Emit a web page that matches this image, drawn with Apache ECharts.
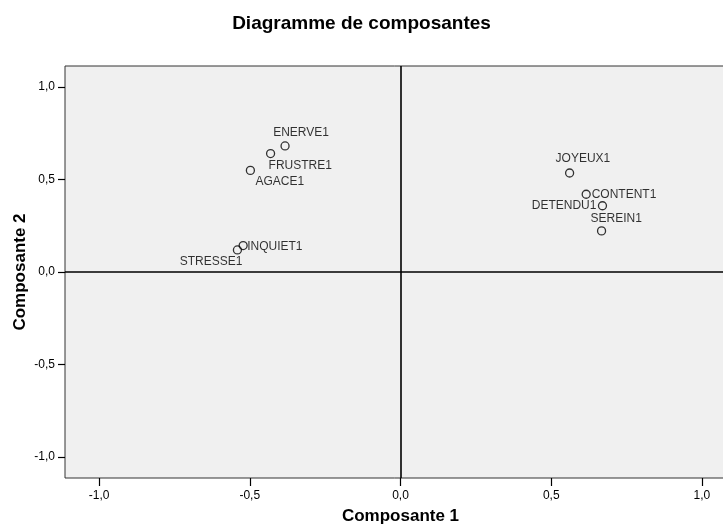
<!DOCTYPE html>
<html>
<head>
<meta charset="utf-8">
<script src="https://cdn.jsdelivr.net/npm/echarts@6/dist/echarts.min.js"></script>
<style>
html,body{margin:0;padding:0;background:#fff;}
#chart{width:723px;height:526px;}
</style>
</head>
<body>
<div id="chart"></div>
<script>
// Data
var names = ['ENERVE1','FRUSTRE1','AGACE1','INQUIET1','STRESSE1','JOYEUX1','CONTENT1','DETENDU1','SEREIN1'];
var comp1 = [-0.383, -0.431, -0.498, -0.522, -0.541, 0.561, 0.616, 0.670, 0.667];
var comp2 = [0.681, 0.640, 0.549, 0.143, 0.119, 0.535, 0.420, 0.358, 0.222];
var tickValues = [-1.0, -0.5, 0.0, 0.5, 1.0];

// Label placement (style only)
var labelPlacement = {
  'ENERVE1':  {align:'center', offset:[16,-13]},
  'FRUSTRE1': {align:'left',   offset:[-2,12]},
  'AGACE1':   {align:'left',   offset:[5,11.5]},
  'INQUIET1': {align:'left',   offset:[4,1]},
  'STRESSE1': {align:'right',  offset:[5,12]},
  'JOYEUX1':  {align:'left',   offset:[-14,-14]},
  'CONTENT1': {align:'left',   offset:[5.5,0]},
  'DETENDU1': {align:'right',  offset:[-6,0]},
  'SEREIN1':  {align:'left',   offset:[-11,-12]}
};

var FONT = '"Liberation Sans", Arial, sans-serif';
function fmt(v){ return v.toFixed(1).replace('.', ','); }

var seriesData = names.map(function(n, i){
  var lp = labelPlacement[n];
  return {
    name: n,
    value: [comp1[i], comp2[i]],
    label: {show:true, position:'inside', align: lp.align, verticalAlign:'middle', offset: lp.offset}
  };
});

var chart = echarts.init(document.getElementById('chart'), null, {renderer:'canvas'});
chart.setOption({
  animation: false,
  backgroundColor: '#ffffff',
  title: {
    text: 'Diagramme de composantes',
    left: 'center',
    top: 9,
    textStyle: {fontFamily: FONT, fontSize: 19, fontWeight: 'bold', color: '#000'}
  },
  grid: {
    left: 65, top: 66, width: 671, bottom: 48,
    containLabel: false,
    outerBoundsMode: 'none',
    show: true, backgroundColor: '#f0f0f0', borderColor: '#333', borderWidth: 1
  },
  xAxis: {
    type: 'value', min: -1.113, max: 1.113,
    name: 'Composante 1', nameLocation: 'middle', nameGap: 30, nameMoveOverlap: false,
    nameTextStyle: {fontFamily: FONT, fontSize: 17, fontWeight: 'bold', color: '#000'},
    axisLine: {show: false, onZero: false},
    splitLine: {show: false},
    axisTick: {show: true, length: 8, customValues: tickValues, lineStyle: {color: '#000', width: 1.2}},
    axisLabel: {customValues: tickValues, formatter: fmt, margin: 12, fontFamily: FONT, fontSize: 12, color: '#000'}
  },
  yAxis: {
    type: 'value', min: -1.113, max: 1.113,
    name: 'Composante 2', nameLocation: 'middle', nameGap: 36, nameRotate: 90, nameMoveOverlap: false,
    nameTextStyle: {fontFamily: FONT, fontSize: 17, fontWeight: 'bold', color: '#000'},
    axisLine: {show: false, onZero: false},
    splitLine: {show: false},
    axisTick: {show: true, length: 7, customValues: tickValues, lineStyle: {color: '#000', width: 1.2}},
    axisLabel: {customValues: tickValues, formatter: fmt, margin: 10, fontFamily: FONT, fontSize: 12, color: '#000'}
  },
  series: [{
    type: 'scatter',
    data: seriesData,
    symbol: 'circle',
    symbolSize: 8,
    itemStyle: {color: 'rgba(0,0,0,0)', borderColor: '#000', borderWidth: 1.3},
    label: {
      show: true,
      formatter: function(p){ return p.name; },
      fontFamily: FONT, fontSize: 12, color: '#000'
    },
    emphasis: {disabled: true},
    markLine: {
      silent: true,
      symbol: ['none','none'],
      label: {show: false},
      lineStyle: {color: '#000', width: 1.6, type: 'solid'},
      data: [{xAxis: 0}, {yAxis: 0}]
    }
  }]
});
</script>
</body>
</html>
